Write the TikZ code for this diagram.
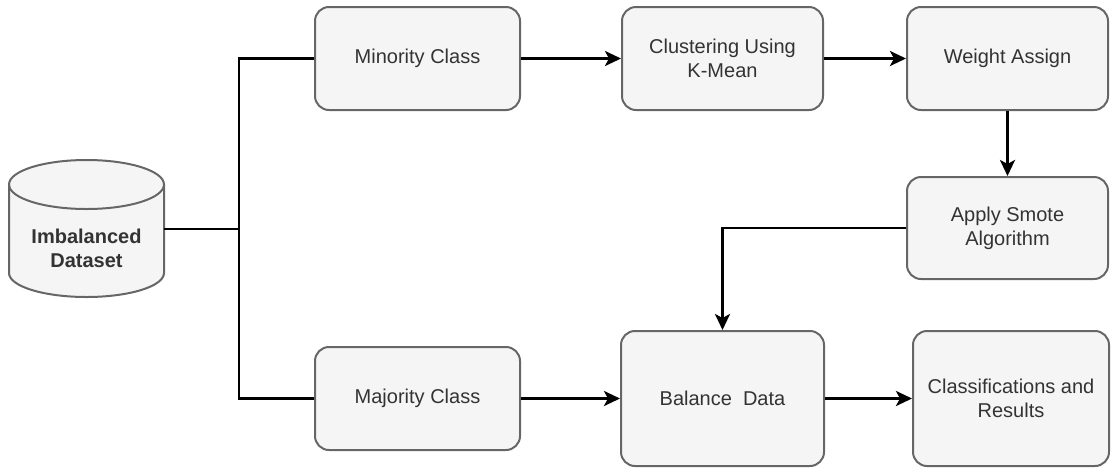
\documentclass[tikz,border=0pt]{standalone}
\usepackage{fontspec}
\setmainfont{Liberation Sans}
\usetikzlibrary{arrows.meta,positioning}
\definecolor{boxfill}{HTML}{F5F5F5}
\definecolor{boxline}{HTML}{666666}
\definecolor{boxtext}{HTML}{333333}
\tikzset{
  stepbox/.style={draw=boxline, fill=boxfill, line width=2pt, rounded corners=14pt,
    text=boxtext, align=center, font=\fontsize{20}{24}\selectfont, inner sep=0pt},
  arr/.style={draw=black, line width=2.8pt, -{Stealth[length=16pt,width=15pt,inset=4pt]}},
  conn/.style={draw=black, line width=2.8pt},
}
\begin{document}
\begin{tikzpicture}[x=1pt,y=-1pt]
\useasboundingbox (0,0) rectangle (1111,467);
% cylinder
\fill[boxfill] (9,184.5) -- (9,273) arc[start angle=180,end angle=0,x radius=77.5,y radius=24] -- (164,184.5) arc[start angle=0,end angle=-180,x radius=77.5,y radius=24.5] -- cycle;
\draw[boxline, line width=2pt] (9,184.5) -- (9,273) arc[start angle=180,end angle=0,x radius=77.5,y radius=24] -- (164,184.5);
\draw[boxline, line width=2pt] (86.5,184.5) ellipse[x radius=77.5,y radius=24.5];
\node[text=boxtext, align=center, font=\fontsize{20}{24}\selectfont\bfseries] (dstext) at (86.5,248) {Imbalanced\\Dataset};
\coordinate (ds) at (164,229);
\coordinate (j) at (239,229);
% boxes
\node[stepbox, minimum width=205pt, minimum height=103pt] (mino) at (417.5,58.5) {Minority Class};
\node[stepbox, minimum width=201pt, minimum height=103pt] (clus) at (722.5,58.5) {Clustering Using\\K-Mean};
\node[stepbox, minimum width=201pt, minimum height=103pt] (wa) at (1007.5,58.5) {Weight Assign};
\node[stepbox, minimum width=201pt, minimum height=102pt] (sm) at (1007.5,228) {Apply Smote\\Algorithm};
\node[stepbox, minimum width=205pt, minimum height=103pt] (majo) at (417.5,398.5) {Majority Class};
\node[stepbox, minimum width=203pt, minimum height=135pt] (bal) at (722.5,398.5) {Balance~~Data};
\node[stepbox, minimum width=196pt, minimum height=135pt] (cls) at (1011,398.5) {Classifications and\\Results};
% connectors
\draw[conn] (ds) -- (j);
\draw[conn] (j) |- (mino.west);
\draw[conn] (j) |- (majo.west);
\draw[arr] (mino) -- (clus);
\draw[arr] (clus) -- (wa);
\draw[arr] (wa) -- (sm);
\draw[arr] (sm.west) -| (bal.north);
\draw[arr] (majo) -- (bal);
\draw[arr] (bal) -- (cls);
\end{tikzpicture}
\end{document}
